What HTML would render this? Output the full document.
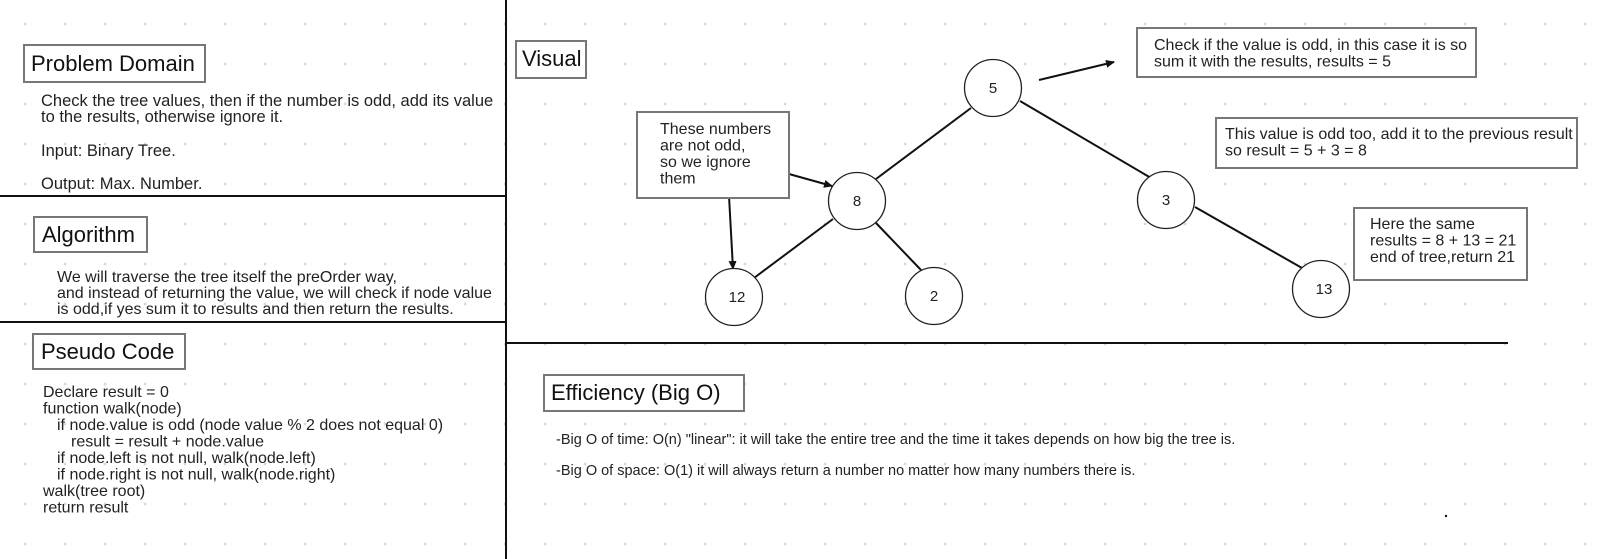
<!DOCTYPE html>
<html><head><meta charset="utf-8"><style>
html,body{margin:0;padding:0}
body{width:1620px;height:559px;overflow:hidden;background:#fff;
background-image:radial-gradient(circle at 20px 20px,#d8d8d8 1.2px,transparent 1.6px);
background-size:40px 40px;background-position:5px 4px;font-family:"Liberation Sans",sans-serif}
svg{position:absolute;left:0;top:0}
text{font-family:"Liberation Sans",sans-serif;fill:#222}
.t{font-size:14.5px}
.u{font-size:16px}
.h{font-size:22px;fill:#111}
.b{fill:#fff;stroke:#777;stroke-width:2}
.l{stroke:#111;stroke-width:2;fill:none}
.c{fill:#fff;stroke:#222;stroke-width:1.3}
.n{font-size:15px;text-anchor:middle}
</style></head><body>
<svg width="1620" height="559" viewBox="0 0 1620 559">
<defs><marker id="a" markerWidth="10" markerHeight="10" refX="8" refY="5" orient="auto" markerUnits="userSpaceOnUse"><path d="M0,1 L9,5 L0,9 Z" fill="#111"/></marker></defs>
<line class="l" x1="506" y1="0" x2="506" y2="559"/>
<line class="l" x1="0" y1="196" x2="507" y2="196"/>
<line class="l" x1="0" y1="322" x2="507" y2="322"/>
<line class="l" x1="506" y1="343" x2="1508" y2="343"/>
<rect class="b" x="24" y="45" width="181" height="37"/>
<text class="h" x="31" y="71">Problem Domain</text>
<text class="u" x="41" y="106" style="font-size:16.5px">Check the tree values, then if the number is odd, add its value</text>
<text class="u" x="41" y="122" style="font-size:16.5px">to the results, otherwise ignore it.</text>
<text class="u" x="41" y="156" style="font-size:16.5px">Input: Binary Tree.</text>
<text class="u" x="41" y="189" style="font-size:16.5px">Output: Max. Number.</text>
<rect class="b" x="34" y="217" width="113" height="35"/>
<text class="h" x="42" y="242">Algorithm</text>
<text class="u" x="57" y="282">We will traverse the tree itself the preOrder way,</text>
<text class="u" x="57" y="298">and instead of returning the value, we will check if node value</text>
<text class="u" x="57" y="314">is odd,if yes sum it to results and then return the results.</text>
<rect class="b" x="33" y="334" width="152" height="35"/>
<text class="h" x="41" y="359">Pseudo Code</text>
<text class="u" x="43" y="397">Declare result = 0</text>
<text class="u" x="43" y="413.5">function walk(node)</text>
<text class="u" x="57" y="430">if node.value is odd (node value % 2 does not equal 0)</text>
<text class="u" x="71" y="446.5">result = result + node.value</text>
<text class="u" x="57" y="463">if node.left is not null, walk(node.left)</text>
<text class="u" x="57" y="479.5">if node.right is not null, walk(node.right)</text>
<text class="u" x="43" y="496">walk(tree root)</text>
<text class="u" x="43" y="512.5">return result</text>
<rect class="b" x="516" y="41" width="70" height="37"/>
<text class="h" x="522" y="66">Visual</text>
<line class="l" x1="971" y1="108" x2="876" y2="179"/>
<line class="l" x1="1020" y1="101" x2="1151" y2="178"/>
<line class="l" x1="833" y1="219" x2="754" y2="278"/>
<line class="l" x1="876" y1="223" x2="921" y2="270"/>
<line class="l" x1="1195" y1="207" x2="1302" y2="268"/>
<line class="l" x1="789" y1="174" x2="832" y2="186" marker-end="url(#a)"/>
<line class="l" x1="729" y1="196" x2="733" y2="269" marker-end="url(#a)"/>
<line class="l" x1="1039" y1="80" x2="1114" y2="62" marker-end="url(#a)"/>
<circle class="c" cx="993" cy="88" r="28.5"/><text class="n" x="993" y="93">5</text>
<circle class="c" cx="857" cy="201" r="28.5"/><text class="n" x="857" y="206">8</text>
<circle class="c" cx="734" cy="297" r="28.5"/><text class="n" x="737" y="302">12</text>
<circle class="c" cx="934" cy="296" r="28.5"/><text class="n" x="934" y="301">2</text>
<circle class="c" cx="1166" cy="200" r="28.5"/><text class="n" x="1166" y="205">3</text>
<circle class="c" cx="1321" cy="289" r="28.5"/><text class="n" x="1324" y="294">13</text>
<rect class="b" x="637" y="112" width="152" height="86"/>
<text class="u" x="660" y="134">These numbers</text>
<text class="u" x="660" y="150.5">are not odd,</text>
<text class="u" x="660" y="167">so we ignore</text>
<text class="u" x="660" y="183.5">them</text>
<rect class="b" x="1137" y="28" width="339" height="49"/>
<text class="u" x="1154" y="50">Check if the value is odd, in this case it is so</text>
<text class="u" x="1154" y="66.5">sum it with the results, results = 5</text>
<rect class="b" x="1216" y="118" width="361" height="50"/>
<text class="u" x="1225" y="139">This value is odd too, add it to the previous result</text>
<text class="u" x="1225" y="155.5">so result = 5 + 3 = 8</text>
<rect class="b" x="1354" y="208" width="173" height="72"/>
<text class="u" x="1370" y="229">Here the same</text>
<text class="u" x="1370" y="245.5">results = 8 + 13 = 21</text>
<text class="u" x="1370" y="262">end of tree,return 21</text>
<rect class="b" x="544" y="375" width="200" height="36"/>
<text class="h" x="551" y="400">Efficiency (Big O)</text>
<text class="t" x="556" y="444">-Big O of time: O(n) "linear": it will take the entire tree and the time it takes depends on how big the tree is.</text>
<text class="t" x="556" y="475">-Big O of space: O(1) it will always return a number no matter how many numbers there is.</text>
<circle cx="1446" cy="516" r="1.2" fill="#111"/>
</svg>
</body></html>
